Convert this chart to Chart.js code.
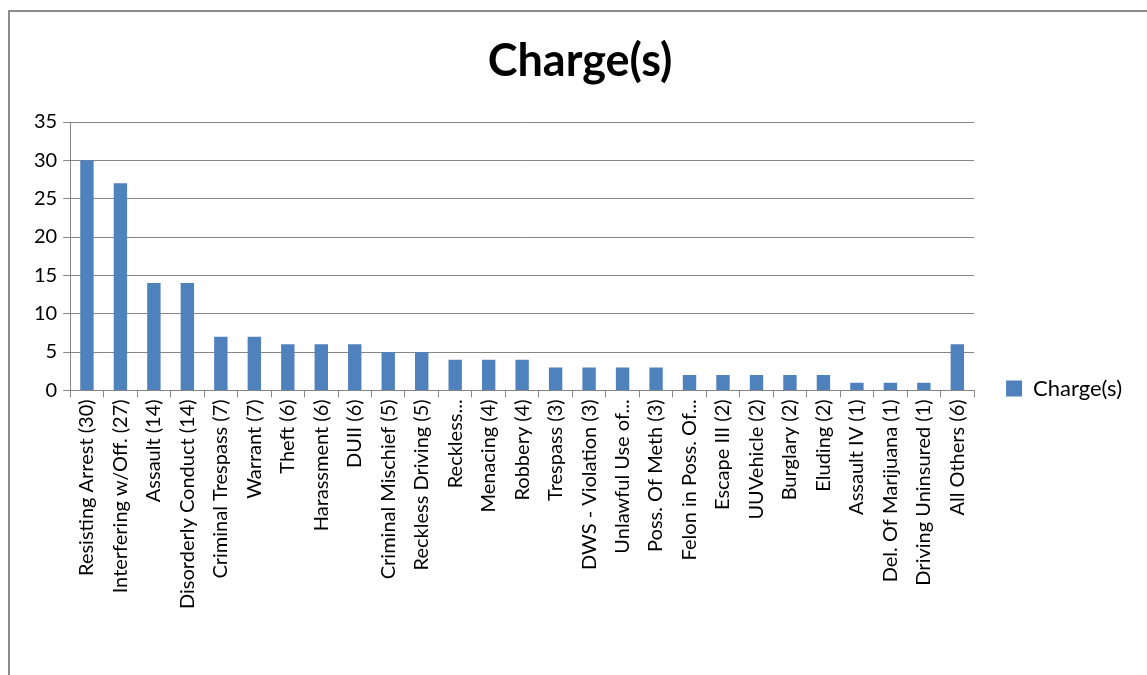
<!DOCTYPE html>
<html>
<head>
<meta charset="utf-8">
<script src="https://cdn.jsdelivr.net/npm/chart.js@4"></script>
<style>
  body { margin: 0; background: #fff; overflow: hidden; }
  #wrap { position: absolute; left: 8px; top: 10px; width: 1150px; height: 680px; border: 2px solid #8c8c8c; box-sizing: border-box; }
</style>
</head>
<body>
<div id="wrap"><canvas id="myChart"></canvas></div>
<script>
var labels = ['Resisting Arrest (30)', 'Interfering w/Off. (27)', 'Assault (14)', 'Disorderly Conduct (14)',
  'Criminal Trespass (7)', 'Warrant (7)', 'Theft (6)', 'Harassment (6)', 'DUII (6)', 'Criminal Mischief (5)',
  'Reckless Driving (5)', 'Reckless...', 'Menacing (4)', 'Robbery (4)', 'Trespass (3)', 'DWS - Violation (3)',
  'Unlawful Use of...', 'Poss. Of Meth (3)', 'Felon in Poss. Of...', 'Escape III (2)', 'UUVehicle (2)',
  'Burglary (2)', 'Eluding (2)', 'Assault IV (1)', 'Del. Of Marijuana (1)', 'Driving Uninsured (1)', 'All Others (6)'];
var charges = [30, 27, 14, 14, 7, 7, 6, 6, 6, 5, 5, 4, 4, 4, 3, 3, 3, 3, 2, 2, 2, 2, 2, 1, 1, 1, 6];
var yTicks = [0, 5, 10, 15, 20, 25, 30, 35];

var font = "Lato, 'Open Sans', sans-serif";
var ctx = document.getElementById('myChart').getContext('2d');
var myChart = new Chart(ctx, {
  type: 'bar',
  data: {
    labels: labels,
    datasets: [{
      label: 'Charge(s)',
      data: charges,
      backgroundColor: "#4f81bd",
      categoryPercentage: 1,
      barPercentage: 0.4
    }]
  },
  options: {
    responsive: true,
    maintainAspectRatio: false,
    animation: false,
    layout: { padding: { left: 18, right: 24, top: 0, bottom: 77 } },
    plugins: {
      title: {
        display: true,
        text: 'Charge(s)',
        color: '#000',
        font: { family: font, size: 45, weight: 'bold' },
        padding: { top: 22, bottom: 34 }
      },
      legend: {
        position: 'right',
        align: 'center',
        // blank title only pushes the legend item down to the axis level
        title: { display: true, text: ' ', font: { size: 10 }, padding: { top: 142, bottom: 0 } },
        labels: {
          color: '#000',
          font: { family: font, size: 22 },
          boxWidth: 16,
          boxHeight: 16,
          padding: 32
        }
      },
      tooltip: { enabled: false }
    },
    scales: {
      x: {
        grid: { display: true, offset: true, drawOnChartArea: false, drawTicks: true, tickLength: 7, color: '#868686' },
        border: { color: '#868686' },
        ticks: { color: '#000', font: { family: font, size: 20 }, maxRotation: 90, minRotation: 90, autoSkip: false, padding: 2 }
      },
      y: {
        min: 0,
        max: 35,
        afterBuildTicks: function (axis) { axis.ticks = yTicks.map(function (v) { return { value: v }; }); },
        grid: { color: '#868686', tickLength: 7 },
        border: { color: '#868686' },
        ticks: { color: '#000', font: { family: font, size: 20 }, padding: 6 }
      }
    }
  }
});
</script>
</body>
</html>
